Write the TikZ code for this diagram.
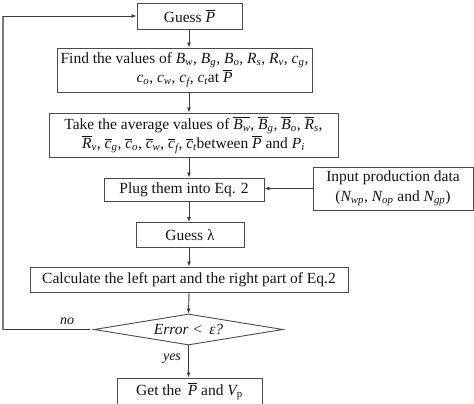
\documentclass[tikz,border=0pt]{standalone}
\usepackage{amsmath}
\usepackage{fontspec}
\setmainfont{Liberation Serif}
\usetikzlibrary{shapes.geometric,arrows.meta}
\newcommand\ti[1]{\textit{#1}}
\newcommand\vv[2]{$\ti{#1}_{\ti{#2}}$}
\newcommand\ob[2]{$\overline{\ti{#1}}_{\ti{#2}}$}
\definecolor{boxc}{HTML}{4A4A4A}
\definecolor{linec}{HTML}{3A3A3A}
\definecolor{loopc}{HTML}{7A7A7A}
\definecolor{txtc}{HTML}{141414}
\begin{document}
\begin{tikzpicture}[x=1pt,y=-1pt,
  box/.style={draw=boxc, line width=0.9pt, inner sep=0pt, align=center, text=txtc,
    font=\fontsize{15.5}{19.5}\selectfont},
  arr/.style={draw=linec, line width=0.9pt, -{Latex[length=5pt,width=4pt]}},
  lbl/.style={text=txtc, font=\fontsize{14}{16}\selectfont\itshape, inner sep=0pt}]
\useasboundingbox (0,0) rectangle (474,404);
\node[box, minimum width=105pt, minimum height=26pt] (g1) at (189.5,16) {Guess $\overline{\ti{P}}$};
\node[box, minimum width=255pt, minimum height=44pt] (find) at (184.5,70)
  {Find the values of \vv{B}{w}, \vv{B}{g}, \vv{B}{o}, \vv{R}{s}, \vv{R}{v}, \vv{c}{g},\\
   \vv{c}{o}, \vv{c}{w}, \vv{c}{f}, \vv{c}{t}at $\overline{\ti{P}}$};
\node[box, minimum width=289pt, minimum height=44pt] (take) at (193.5,135)
  {Take the average values of $\overline{\ti{B}_{\ti{w}}}$, \ob{B}{g}, \ob{B}{o}, \ob{R}{s},\\
   \ob{R}{v}, \ob{c}{g}, \ob{c}{o}, \ob{c}{w}, \ob{c}{f}, \ob{c}{t}between $\overline{\ti{P}}$ and \vv{P}{i}};
\node[box, minimum width=160pt, minimum height=23pt] (plug) at (184,189.5) {Plug them into Eq. 2};
\node[box, minimum width=160pt, minimum height=43pt] (inp) at (393,188.5)
  {Input production data\\(\vv{N}{wp}, \vv{N}{op} and \vv{N}{gp})};
\node[box, minimum width=108pt, minimum height=25pt] (g2) at (190,235) {Guess λ};
\node[box, minimum width=318pt, minimum height=25pt] (calc) at (189,279.5)
  {Calculate the left part and the right part of Eq.2};
\node[box, shape=diamond, aspect=6, minimum width=189pt, minimum height=31pt] (dec) at (188.5,329.5)
  {\itshape Error <\, ε?};
\node[box, minimum width=145pt, minimum height=27pt] (get) at (189.5,391.5)
  {Get the \,$\overline{\ti{P}}$ and $\ti{V}_{\mathrm{p}}$};

\draw[arr] (g1.south -| 189,0) -- (find.north -| 189,0);
\draw[arr] (find.south -| 189,0) -- (take.north -| 189,0);
\draw[arr] (take.south -| 189,0) -- (plug.north -| 189,0);
\draw[arr] (plug.south -| 189,0) -- (g2.north -| 189,0);
\draw[arr] (g2.south -| 189,0) -- (calc.north -| 189,0);
\draw[arr] (calc.south -| 189,0) -- (dec.north);
\draw[arr] (dec.south) -- (get.north -| dec.south);
\draw[arr] (inp.west) -- (inp.west -| plug.east);

\coordinate (c1) at (3,329.5);
\coordinate (c2) at (3,16);
\draw[draw=linec, line width=0.9pt] ([xshift=-4pt]dec.west) -- (c1);
\draw[draw=loopc, line width=2pt] (c1) -- (c2);
\draw[arr] (c2) -- (g1.west);

\node[lbl] (no) at (67,321) {no};
\node[lbl] (yes) at (172,359) {yes};
\end{tikzpicture}
\end{document}
